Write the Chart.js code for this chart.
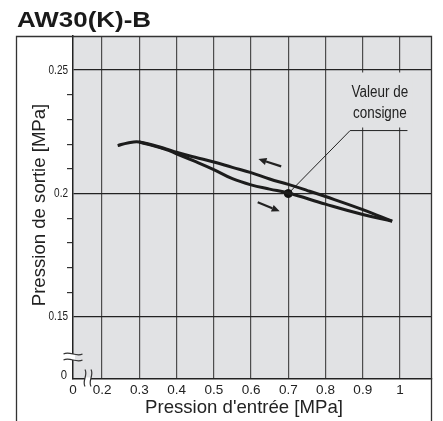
<!DOCTYPE html>
<html>
<head>
<meta charset="utf-8">
<script src="https://cdn.jsdelivr.net/npm/chart.js@4/dist/chart.umd.min.js"></script>
<style>
  html, body { margin: 0; padding: 0; background: #fff; }
</style>
</head>
<body>
<canvas id="pressChart"></canvas>
<script>
// axes are broken: the left / bottom edge stands for 0
const xMin = 0.1221;
const xMax = 1.0859;
const yMin = 0.1249;
const yMax = 0.2638;

const xTickValues = [0.2, 0.3, 0.4, 0.5, 0.6, 0.7, 0.8, 0.9, 1.0];
const xTickLabels = ['0.2', '0.3', '0.4', '0.5', '0.6', '0.7', '0.8', '0.9', '1'];
const yMajorValues = [0.15, 0.2, 0.25];
const yMajorLabels = ['0.15', '0.2', '0.25'];
const yMinorValues = [0.16, 0.17, 0.18, 0.19, 0.21, 0.22, 0.23, 0.24];

// upper branch (inlet pressure going down)
const upperX = [0.242, 0.269, 0.300, 0.372, 0.40, 0.45, 0.50, 0.55, 0.60, 0.65, 0.70, 0.75, 0.80, 0.90, 0.979];
const upperY = [0.2194, 0.2205, 0.2209, 0.2181, 0.2167, 0.2147, 0.2128, 0.2106, 0.2085, 0.2059, 0.2037, 0.2013, 0.1988, 0.1935, 0.1888];

// lower branch (inlet pressure going up)
const lowerX = [0.300, 0.372, 0.40, 0.45, 0.50, 0.55, 0.60, 0.65, 0.70, 0.80, 0.90, 0.979];
const lowerY = [0.2209, 0.2178, 0.2161, 0.2130, 0.2097, 0.2060, 0.2035, 0.2018, 0.2002, 0.1957, 0.1915, 0.1888];

// set point and its leader line
const setPointX = [0.7];
const setPointY = [0.2];
const leaderX = [0.7, 0.866, 1.02];
const leaderY = [0.2, 0.2255, 0.2255];
const noteLines = ['Valeur de', 'consigne'];
const noteX = 0.946;
const noteY = 0.2391;

// direction arrows (tail -> tip)
const arrowFromX = [0.681, 0.618];
const arrowFromY = [0.2110, 0.1965];
const arrowToX = [0.620, 0.677];
const arrowToY = [0.2140, 0.1928];

const canvas = document.getElementById('pressChart');
canvas.width = 443;
canvas.height = 421;

Chart.defaults.font.family = '"Liberation Sans", Arial, sans-serif';

const toPoints = (xs, ys) => xs.map((x, i) => ({x: x, y: ys[i]}));

// condensed text: no narrow face installed, so squeeze a normal one
function narrowText(ctx, text, x, y, size, squeeze, align, baseline) {
  ctx.save();
  ctx.translate(x, y);
  ctx.scale(squeeze, 1);
  ctx.font = size + 'px "Liberation Sans", Arial, sans-serif';
  ctx.textAlign = align;
  ctx.textBaseline = baseline;
  ctx.fillText(text, 0, 0);
  ctx.restore();
}

// wavy break mark, drawn along a local horizontal axis
function wave(ctx, cx, cy, w, a, angle) {
  ctx.save();
  ctx.translate(cx, cy);
  ctx.rotate(angle);
  ctx.beginPath();
  ctx.moveTo(-w / 2, 0);
  ctx.bezierCurveTo(-w / 6, -a * 2, w / 6, a * 2, w / 2, 0);
  ctx.stroke();
  ctx.restore();
}

const extras = {
  id: 'extras',
  beforeDraw(chart) {
    const ctx = chart.ctx;
    const a = chart.chartArea;
    ctx.save();
    ctx.fillStyle = '#fff';
    ctx.fillRect(0, 0, chart.width, chart.height);
    ctx.fillStyle = '#e1e2e4';
    ctx.fillRect(a.left, a.top, a.right - a.left, a.bottom - a.top);
    ctx.restore();
  },
  beforeDatasetsDraw(chart) {
    // note box hides the grid behind the text
    const ctx = chart.ctx;
    const nx = chart.scales.x.getPixelForValue(noteX);
    const ny = chart.scales.y.getPixelForValue(noteY);
    ctx.save();
    ctx.fillStyle = '#e1e2e4';
    ctx.fillRect(nx - 33, ny - 24.5, 66, 55);
    ctx.fillStyle = '#222';
    noteLines.forEach((t, i) => narrowText(ctx, t, nx, ny + i * 21.5, 16, 0.84, 'center', 'alphabetic'));
    ctx.restore();
  },
  afterDraw(chart) {
    const ctx = chart.ctx;
    const a = chart.chartArea;
    const xs = chart.scales.x;
    const ys = chart.scales.y;
    ctx.save();

    // outer frame
    ctx.strokeStyle = '#333';
    ctx.lineWidth = 1.3;
    ctx.beginPath();
    ctx.moveTo(16.5, chart.height);
    ctx.lineTo(16.5, a.top + 0.5);
    ctx.lineTo(a.right - 0.5, a.top + 0.5);
    ctx.lineTo(a.right - 0.5, chart.height);
    ctx.stroke();

    // y tick labels (condensed)
    ctx.fillStyle = '#222';
    yMajorValues.forEach((v, i) => {
      narrowText(ctx, yMajorLabels[i], a.left - 5, ys.getPixelForValue(v), 12.5, 0.8, 'right', 'middle');
    });
    narrowText(ctx, '0', a.left - 6, ys.getPixelForValue(yMin) - 3, 12.5, 0.9, 'right', 'middle');

    // arrows
    ctx.strokeStyle = '#222';
    ctx.fillStyle = '#222';
    for (let i = 0; i < arrowFromX.length; i++) {
      const x1 = xs.getPixelForValue(arrowFromX[i]);
      const y1 = ys.getPixelForValue(arrowFromY[i]);
      const x2 = xs.getPixelForValue(arrowToX[i]);
      const y2 = ys.getPixelForValue(arrowToY[i]);
      const ang = Math.atan2(y2 - y1, x2 - x1);
      const hl = 8, hw = 3.6;
      const bx = x2 - hl * Math.cos(ang);
      const by = y2 - hl * Math.sin(ang);
      ctx.lineWidth = 2.2;
      ctx.beginPath();
      ctx.moveTo(x1, y1);
      ctx.lineTo(bx, by);
      ctx.stroke();
      ctx.beginPath();
      ctx.moveTo(x2, y2);
      ctx.lineTo(bx + hw * Math.sin(ang), by - hw * Math.cos(ang));
      ctx.lineTo(bx - hw * Math.sin(ang), by + hw * Math.cos(ang));
      ctx.closePath();
      ctx.fill();
    }

    // axis break marks
    ctx.strokeStyle = '#333';
    ctx.lineWidth = 1.2;
    const by0 = a.bottom - 22;
    ctx.fillStyle = '#fff';
    ctx.fillRect(a.left - 1.5, by0 - 3, 3.5, 6);
    wave(ctx, a.left, by0 - 3, 19, 1.6, 0);
    wave(ctx, a.left, by0 + 3, 19, 1.6, 0);
    const bx0 = a.left + 15;
    ctx.fillRect(bx0 - 3, a.bottom - 1.5, 6, 3.5);
    wave(ctx, bx0 - 3, a.bottom - 1, 17, 1.6, Math.PI / 2);
    wave(ctx, bx0 + 3, a.bottom - 1, 17, 1.6, Math.PI / 2);

    // titles
    ctx.fillStyle = '#1a1a1a';
    ctx.save();
    ctx.translate(17, 27);
    ctx.scale(1.18, 1);
    ctx.font = 'bold 22px "Liberation Sans", Arial, sans-serif';
    ctx.textAlign = 'left';
    ctx.textBaseline = 'alphabetic';
    ctx.fillText('AW30(K)-B', 0, 0);
    ctx.restore();

    ctx.fillStyle = '#222';
    ctx.font = '18.6px "Liberation Sans", Arial, sans-serif';
    ctx.textAlign = 'center';
    ctx.textBaseline = 'middle';
    ctx.fillText("Pression d'entrée [MPa]", 244, 408);
    ctx.translate(40, 205);
    ctx.rotate(-Math.PI / 2);
    ctx.fillText('Pression de sortie [MPa]', 0, 0);

    ctx.restore();
  }
};

const curveStyle = {
  showLine: true,
  borderColor: '#1c1c1c',
  borderWidth: 3,
  pointRadius: 0,
  tension: 0.4,
  fill: false
};

const dataChart = {
  datasets: [
    Object.assign({label: 'Upper', data: toPoints(upperX, upperY)}, curveStyle),
    Object.assign({label: 'Lower', data: toPoints(lowerX, lowerY)}, curveStyle),
    {
      label: 'Leader',
      data: toPoints(leaderX, leaderY),
      showLine: true,
      borderColor: '#222',
      borderWidth: 1,
      pointRadius: 0,
      tension: 0
    },
    {
      label: 'Set point',
      data: toPoints(setPointX, setPointY),
      pointRadius: 4,
      backgroundColor: '#111',
      borderColor: '#111'
    }
  ]
};

const configChart = {
  type: 'scatter',
  data: dataChart,
  plugins: [extras],
  options: {
    responsive: false,
    animation: false,
    devicePixelRatio: 1,
    layout: {padding: {top: 36, right: 11, left: 0, bottom: 0}},
    plugins: {
      legend: {display: false},
      tooltip: {enabled: false}
    },
    scales: {
      x: {
        type: 'linear',
        min: xMin,
        max: xMax,
        afterBuildTicks: s => {
          s.ticks = [{value: xMin}].concat(xTickValues.map(v => ({value: v})));
        },
        afterFit: s => { s.height = 42; },
        ticks: {
          autoSkip: false,
          maxRotation: 0,
          padding: 3,
          color: '#222',
          font: {size: 13.5},
          callback: (v, i) => i === 0 ? '0' : xTickLabels[i - 1]
        },
        grid: {
          drawTicks: false,
          lineWidth: 1.2,
          color: ctx => (ctx.tick && ctx.tick.value === xMin) ? 'transparent' : '#4d4d4d'
        },
        border: {color: '#222', width: 1.5}
      },
      y: {
        type: 'linear',
        min: yMin,
        max: yMax,
        afterBuildTicks: s => {
          const vals = [yMin].concat(yMajorValues, yMinorValues).sort((p, q) => p - q);
          s.ticks = vals.map(v => ({value: v}));
        },
        afterFit: s => { s.width = 73; },
        // labels are drawn condensed by the plugin
        ticks: {display: false},
        grid: {
          drawTicks: true,
          tickLength: 6,
          lineWidth: 1.2,
          color: ctx => (ctx.tick && yMajorValues.includes(ctx.tick.value)) ? '#222' : 'transparent',
          tickColor: ctx => (ctx.tick && yMinorValues.includes(ctx.tick.value)) ? '#333' : 'transparent'
        },
        border: {color: '#222', width: 1.5}
      }
    }
  }
};

const chart = new Chart(canvas, configChart);
</script>
</body>
</html>
